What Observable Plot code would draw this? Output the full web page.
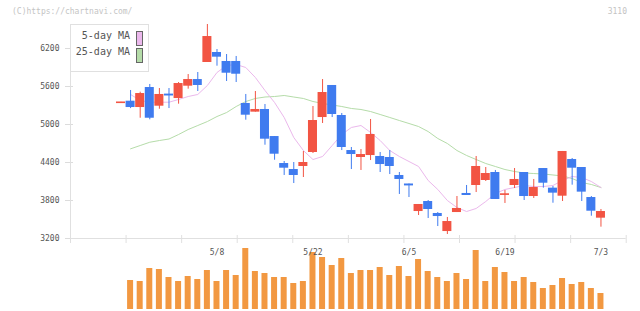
<!DOCTYPE html>
<html><head><meta charset="utf-8">
<script src="https://cdn.jsdelivr.net/npm/d3@7"></script>
<script src="https://cdn.jsdelivr.net/npm/@observablehq/plot@0.6"></script>
<style>
body{margin:0;background:#fff;}
#wrap{position:relative;width:640px;height:311px;overflow:hidden;font-family:"DejaVu Sans Mono",monospace;}
#wrap svg{position:absolute;left:0;top:0;}
.wm{position:absolute;font-size:8px;color:#c4c4c4;line-height:10px;white-space:pre;}
#legend{position:absolute;box-sizing:border-box;left:70px;top:24px;width:79px;height:48px;border:1px solid #e0e0e0;background:#fff;}
.lt{position:absolute;right:18px;font-size:10px;color:#555;line-height:12px;white-space:pre;}
.sw{position:absolute;left:65px;width:5px;height:13px;border:1px solid #666;}
g[aria-label="y-axis tick"]{stroke:#dcdcdc;}
g[aria-label="y-axis tick label"],g[aria-label="x-axis tick label"]{fill:#555;}
</style></head>
<body>
<div id="wrap"></div>
<script>
const dates = ["4/19","4/22","4/23","4/24","4/25","4/26","4/30","5/1","5/2","5/7",
  "5/8","5/9","5/10","5/13","5/14","5/15","5/16","5/17","5/20","5/21",
  "5/22","5/23","5/24","5/27","5/28","5/29","5/30","5/31","6/3","6/4",
  "6/5","6/6","6/7","6/10","6/11","6/12","6/13","6/14","6/17","6/18",
  "6/19","6/20","6/21","6/24","6/25","6/26","6/27","6/28","7/1","7/2","7/3"];
const open  = [5340,5368,5268,5584,5289,5480,5410,5605,5710,5979,6137,5995,5995,5332,5195,5237,4810,4384,4289,4337,
  4558,5110,5616,5142,4589,4479,4510,4495,4479,4195,4060,3626,3784,3595,3310,3610,3911,4037,4116,4242,
  3890,4037,4242,3863,4305,3995,3868,4447,4321,3847,3521];
const high  = [5350,5537,5510,5632,5568,5568,5663,5789,5821,6579,6184,6105,6074,5474,5521,5316,4810,4416,4400,4574,
  5284,5710,5616,5174,4637,4605,5079,4558,4589,4242,4060,3737,3800,3610,3532,3863,4037,4495,4321,4274,
  3958,4305,4242,4132,4305,4021,4574,4463,4321,3863,3658];
const low   = [5340,5251,5099,5074,5241,5252,5321,5558,5521,5979,5921,5679,5663,5068,5195,4673,4436,4195,4068,4163,
  4542,5016,5110,4589,4289,4274,4431,4242,4210,3895,3847,3563,3516,3389,3263,3610,3879,3926,4100,3816,
  3753,3989,3800,3832,3995,3757,3784,4042,3784,3552,3379];
const close = [5350,5268,5489,5099,5474,5470,5647,5710,5616,6389,6063,5810,5794,5147,5237,4768,4531,4310,4195,4400,
  5063,5505,5158,4637,4526,4526,4842,4368,4337,4132,4050,3737,3658,3547,3468,3674,3879,4337,4226,3816,
  3900,4132,3863,4005,4073,3916,4574,4310,3932,3631,3626];
const ma5   = [null,5474,5379,5352,5352,5352,5395,5442,5474,5616,5821,5932,5947,5900,5742,5537,5347,5111,4795,4589,
  4447,4495,4668,4842,4953,4984,4874,4747,4589,4495,4416,4337,4116,3974,3800,3689,3626,3674,3784,3911,
  3974,4005,4037,4021,4021,4037,4116,4179,4163,4100,4005];
const ma25  = [null,4616,4668,4720,4747,4771,4842,4921,4984,5047,5126,5189,5284,5363,5411,5434,5442,5458,5434,5411,
  5363,5332,5308,5284,5253,5237,5205,5158,5111,5063,5016,4968,4889,4779,4700,4589,4511,4447,4384,4337,
  4289,4258,4234,4226,4218,4203,4187,4147,4084,4053,4005];
const volume = [null,290,280,410,400,320,280,330,300,390,280,390,340,610,380,360,320,320,260,280,
  570,520,440,510,360,390,390,420,340,430,330,500,380,320,280,360,300,590,280,420,
  370,280,320,270,210,240,310,250,270,210,160];
const xLabels = ["5/8","5/22","6/5","6/19","7/3"];
const yTicks = [3200,3800,4400,5000,5600,6200];
const legendNames = ["5-day MA","25-day MA"];

const RED = "#f25443", BLUE = "#3f7bef", PINK = "#ebb8ec", GREEN = "#b5dca9", ORANGE = "#f29841";
const rows = dates.map((d,i)=>({i, date:d, open:open[i], high:high[i], low:low[i], close:close[i], ma5:ma5[i], ma25:ma25[i], volume:volume[i]}));
const up = rows.filter(r=>r.close>=r.open), down = rows.filter(r=>r.close<r.open);
const doji = rows.filter(r=>Math.abs(r.close-r.open)<16);
const xDomain = [-5.26, 52.63];
const gridTicks = d3.range(1,11).map(k=>xDomain[0]+k*(xDomain[1]-xDomain[0])/10);
const labelIdx = xLabels.map(l=>dates.indexOf(l));
const HB = 0.47, VB = 0.3125;

const common = {width:640, height:311, marginLeft:70, marginRight:14.3,
  style:{background:"transparent", fontFamily:"'DejaVu Sans Mono', monospace", fontSize:"8px"}};

const vol = Plot.plot({...common, marginTop:239, marginBottom:2,
  x:{type:"linear", domain:xDomain, axis:null},
  y:{domain:[0,700], axis:null},
  marks:[
    Plot.rect(rows.filter(r=>r.volume!=null), {x1:r=>r.i-VB, x2:r=>r.i+VB, y1:0, y2:"volume", fill:ORANGE})
  ]});

const main = Plot.plot({...common, marginTop:24, marginBottom:73,
  x:{type:"linear", domain:xDomain},
  y:{domain:[3200,6579]},
  marks:[
    Plot.gridX(gridTicks, {stroke:"#e0e0e0", strokeOpacity:1, insetTop:211, insetBottom:-5}),
    Plot.gridY(yTicks, {stroke:"#dcdcdc", strokeOpacity:1, insetRight:552.7}),
    Plot.ruleY([3200], {stroke:"#e0e0e0"}),
    Plot.ruleX([xDomain[0]], {stroke:"#e0e0e0", insetBottom:-5}),
    Plot.axisY({ticks:yTicks, tickSize:5, tickPadding:6, tickFormat:d3.format("d"), label:null}),
    Plot.axisX({ticks:labelIdx, tickSize:0, tickPadding:11, tickFormat:i=>dates[i], label:null}),
    Plot.line(rows, {x:"i", y:"ma25", stroke:GREEN, strokeWidth:1}),
    Plot.line(rows, {x:"i", y:"ma5", stroke:PINK, strokeWidth:1}),
    Plot.ruleX(up, {x:"i", y1:"low", y2:"high", stroke:RED, strokeWidth:1}),
    Plot.ruleX(down, {x:"i", y1:"low", y2:"high", stroke:BLUE, strokeWidth:1}),
    Plot.rect(up, {x1:r=>r.i-HB, x2:r=>r.i+HB, y1:"open", y2:"close", fill:RED}),
    Plot.rect(down, {x1:r=>r.i-HB, x2:r=>r.i+HB, y1:"open", y2:"close", fill:BLUE}),
    Plot.ruleY(doji, {x1:r=>r.i-HB, x2:r=>r.i+HB, y:"close", stroke:r=>r.close>=r.open?RED:BLUE, strokeWidth:1.5})
  ]});

const wrap = document.getElementById("wrap");
wrap.appendChild(vol);
wrap.appendChild(main);

const wm = document.createElement("div");
wm.className = "wm"; wm.style.left = "12px"; wm.style.top = "7px";
wm.textContent = "(C)https://chartnavi.com/";
wrap.appendChild(wm);
const code = document.createElement("div");
code.className = "wm"; code.style.right = "13px"; code.style.top = "7px";
code.textContent = "3110";
wrap.appendChild(code);

const lg = document.createElement("div"); lg.id = "legend";
const swColors = [PINK, GREEN];
legendNames.forEach((n,k)=>{
  const t = document.createElement("div"); t.className="lt"; t.style.top = (5+k*16)+"px"; t.textContent = n; lg.appendChild(t);
  const s = document.createElement("div"); s.className="sw"; s.style.top=(6+k*17)+"px"; s.style.background = swColors[k]; lg.appendChild(s);
});
wrap.appendChild(lg);
</script>
</body></html>
